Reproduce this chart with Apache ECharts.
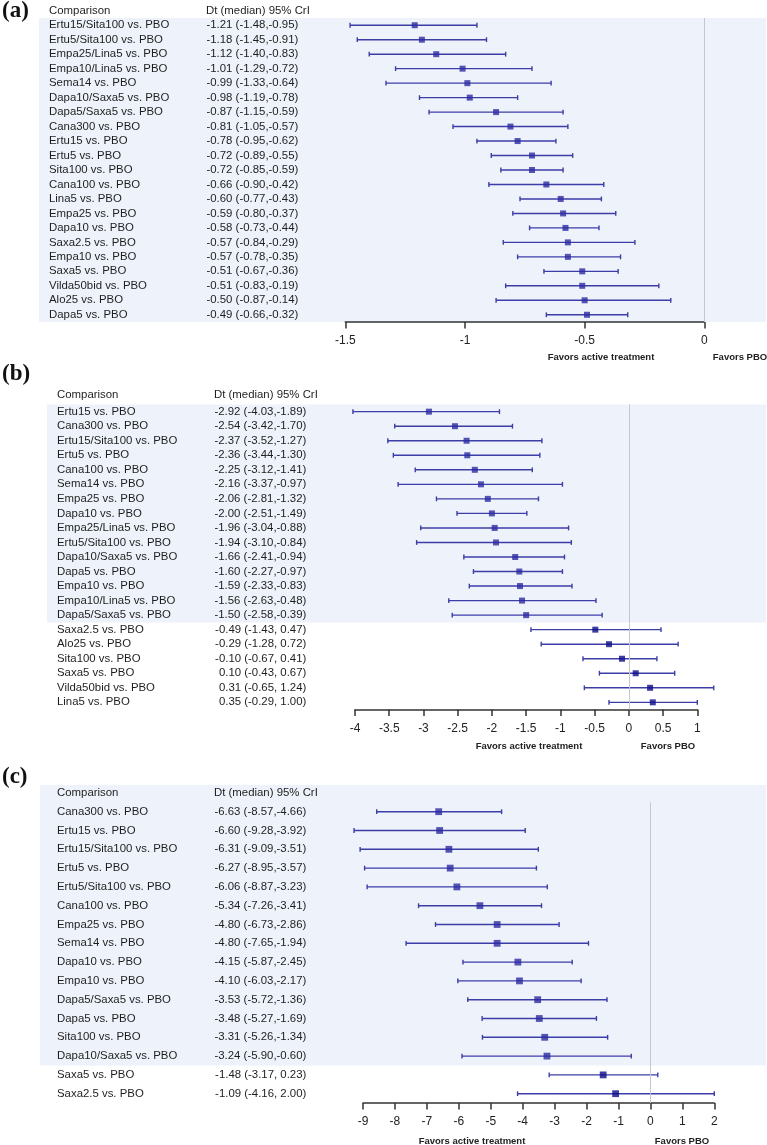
<!DOCTYPE html>
<html>
<head>
    <meta charset="utf-8">
    <title>Forest plots</title>
    <script src="https://cdn.jsdelivr.net/npm/echarts@6.0.0/dist/echarts.min.js"></script>
    <style>
        html, body { margin: 0; padding: 0; background: #fff; }
        #chart { width: 767px; height: 1145px; }
    </style>
</head>
<body>
    <div id="chart"></div>
    <script>
        // panel (a)
        const namesA = ['Ertu15/Sita100 vs. PBO', 'Ertu5/Sita100 vs. PBO', 'Empa25/Lina5 vs. PBO', 'Empa10/Lina5 vs. PBO',
            'Sema14 vs. PBO', 'Dapa10/Saxa5 vs. PBO', 'Dapa5/Saxa5 vs. PBO', 'Cana300 vs. PBO', 'Ertu15 vs. PBO',
            'Ertu5 vs. PBO', 'Sita100 vs. PBO', 'Cana100 vs. PBO', 'Lina5 vs. PBO', 'Empa25 vs. PBO', 'Dapa10 vs. PBO',
            'Saxa2.5 vs. PBO', 'Empa10 vs. PBO', 'Saxa5 vs. PBO', 'Vilda50bid vs. PBO', 'Alo25 vs. PBO', 'Dapa5 vs. PBO'];
        const medA = [-1.21, -1.18, -1.12, -1.01, -0.99, -0.98, -0.87, -0.81, -0.78, -0.72, -0.72, -0.66, -0.60, -0.59, -0.58, -0.57, -0.57, -0.51, -0.51, -0.50, -0.49];
        const loA = [-1.48, -1.45, -1.40, -1.29, -1.33, -1.19, -1.15, -1.05, -0.95, -0.89, -0.85, -0.90, -0.77, -0.80, -0.73, -0.84, -0.78, -0.67, -0.83, -0.87, -0.66];
        const hiA = [-0.95, -0.91, -0.83, -0.72, -0.64, -0.78, -0.59, -0.57, -0.62, -0.55, -0.59, -0.42, -0.43, -0.37, -0.44, -0.29, -0.35, -0.36, -0.19, -0.14, -0.32];

        // panel (b)
        const namesB = ['Ertu15 vs. PBO', 'Cana300 vs. PBO', 'Ertu15/Sita100 vs. PBO', 'Ertu5 vs. PBO', 'Cana100 vs. PBO',
            'Sema14 vs. PBO', 'Empa25 vs. PBO', 'Dapa10 vs. PBO', 'Empa25/Lina5 vs. PBO', 'Ertu5/Sita100 vs. PBO',
            'Dapa10/Saxa5 vs. PBO', 'Dapa5 vs. PBO', 'Empa10 vs. PBO', 'Empa10/Lina5 vs. PBO', 'Dapa5/Saxa5 vs. PBO',
            'Saxa2.5 vs. PBO', 'Alo25 vs. PBO', 'Sita100 vs. PBO', 'Saxa5 vs. PBO', 'Vilda50bid vs. PBO', 'Lina5 vs. PBO'];
        const medB = [-2.92, -2.54, -2.37, -2.36, -2.25, -2.16, -2.06, -2.00, -1.96, -1.94, -1.66, -1.60, -1.59, -1.56, -1.50, -0.49, -0.29, -0.10, 0.10, 0.31, 0.35];
        const loB = [-4.03, -3.42, -3.52, -3.44, -3.12, -3.37, -2.81, -2.51, -3.04, -3.10, -2.41, -2.27, -2.33, -2.63, -2.58, -1.43, -1.28, -0.67, -0.43, -0.65, -0.29];
        const hiB = [-1.89, -1.70, -1.27, -1.30, -1.41, -0.97, -1.32, -1.49, -0.88, -0.84, -0.94, -0.97, -0.83, -0.48, -0.39, 0.47, 0.72, 0.41, 0.67, 1.24, 1.00];

        // panel (c)
        const namesC = ['Cana300 vs. PBO', 'Ertu15 vs. PBO', 'Ertu15/Sita100 vs. PBO', 'Ertu5 vs. PBO', 'Ertu5/Sita100 vs. PBO',
            'Cana100 vs. PBO', 'Empa25 vs. PBO', 'Sema14 vs. PBO', 'Dapa10 vs. PBO', 'Empa10 vs. PBO', 'Dapa5/Saxa5 vs. PBO',
            'Dapa5 vs. PBO', 'Sita100 vs. PBO', 'Dapa10/Saxa5 vs. PBO', 'Saxa5 vs. PBO', 'Saxa2.5 vs. PBO'];
        const medC = [-6.63, -6.60, -6.31, -6.27, -6.06, -5.34, -4.80, -4.80, -4.15, -4.10, -3.53, -3.48, -3.31, -3.24, -1.48, -1.09];
        const loC = [-8.57, -9.28, -9.09, -8.95, -8.87, -7.26, -6.73, -7.65, -5.87, -6.03, -5.72, -5.27, -5.26, -5.90, -3.17, -4.16];
        const hiC = [-4.66, -3.92, -3.51, -3.57, -3.23, -3.41, -2.86, -1.94, -2.45, -2.17, -1.36, -1.69, -1.34, -0.60, 0.23, 2.00];

        const font = '"Liberation Sans", Arial, sans-serif';
        const textColor = '#1e1e1e';
        const bandColor = '#eef2fa';
        const rowFont = 11.4;

        // layout of each panel (pixels)
        const panels = [
            { tag: '(a)', names: namesA, med: medA, lo: loA, hi: hiA,
              grid: { left: 345.3, top: 18, width: 359, height: 304 },
              min: -1.5, max: 0, interval: 0.5,
              nameX: 49, valX: 206, valEnd: 298.3, headY: 11, tagY: 11, bandLeft: 39, bandTop: 18,
              favY: 357, favA: 601, favP: 740, symbol: 6 },
            { tag: '(b)', names: namesB, med: medB, lo: loB, hi: hiB,
              grid: { left: 355, top: 404.4, width: 342.3, height: 305.2 },
              min: -4, max: 1, interval: 0.5,
              nameX: 57, valX: 214, valEnd: 306.3, headY: 395, tagY: 374, bandLeft: 47, bandTop: 404.4,
              favY: 746, favA: 529, favP: 668, symbol: 6 },
            { tag: '(c)', names: namesC, med: medC, lo: loC, hi: hiC,
              grid: { left: 363, top: 802.3, width: 351.3, height: 300.8 },
              min: -9, max: 2, interval: 1,
              nameX: 57, valX: 214, valEnd: 306.3, headY: 792.7, tagY: 777, bandLeft: 40, bandTop: 785,
              favY: 1141, favA: 472, favP: 682, symbol: 6.8 }
        ];

        function fmt(v) { return v.toFixed(2); }
        function valueText(m, lo, hi) {
            return fmt(m) + ' (' + fmt(lo) + ',' + (hi >= 0 ? ' ' : '') + fmt(hi) + ')';
        }

        const grids = [], xAxes = [], yAxes = [], series = [], graphics = [];

        panels.forEach((p, i) => {
            const n = p.names.length;
            const rowH = p.grid.height / n;
            const nSig = p.hi.filter(v => v < 0).length;
            const g = p.grid;

            grids.push(Object.assign({ containLabel: false, outerBoundsMode: 'none' }, g));

            xAxes.push({
                type: 'value', gridIndex: i, min: p.min, max: p.max, interval: p.interval,
                splitLine: { show: false },
                axisLine: { show: true, onZero: false, lineStyle: { color: '#333', width: 1.5 } },
                axisTick: { show: true, length: 6.5, lineStyle: { color: '#333', width: 1.5 } },
                axisLabel: { color: '#222', fontSize: 12, fontFamily: font, margin: 13 }
            });

            // comparison names
            yAxes.push({
                type: 'category', gridIndex: i, inverse: true, data: p.names,
                axisLine: { show: false }, axisTick: { show: false }, splitLine: { show: false },
                axisLabel: { interval: 0, align: 'left', margin: g.left - p.nameX,
                    color: textColor, fontSize: rowFont, fontFamily: font }
            });
            // estimate text
            yAxes.push({
                type: 'category', gridIndex: i, inverse: true, position: 'left',
                data: p.med.map((m, k) => valueText(m, p.lo[k], p.hi[k])),
                axisLine: { show: false }, axisTick: { show: false }, splitLine: { show: false },
                axisLabel: { interval: 0, align: 'right', margin: g.left - p.valEnd,
                    color: textColor, fontSize: rowFont, fontFamily: font }
            });

            series.push({
                type: 'custom', xAxisIndex: i, yAxisIndex: i * 2, z: 2, silent: true,
                encode: { x: [0, 1], y: 2 },
                data: p.lo.map((lo, k) => [lo, p.hi[k], k]),
                renderItem: (params, api) => {
                    const a = api.coord([api.value(0), api.value(2)]);
                    const b = api.coord([api.value(1), api.value(2)]);
                    const h = 2.4;
                    const st = { stroke: '#3d3da8', lineWidth: 1.4 };
                    return {
                        type: 'group', children: [
                            { type: 'line', shape: { x1: a[0], y1: a[1], x2: b[0], y2: b[1] }, style: st },
                            { type: 'line', shape: { x1: a[0], y1: a[1] - h, x2: a[0], y2: a[1] + h }, style: st },
                            { type: 'line', shape: { x1: b[0], y1: b[1] - h, x2: b[0], y2: b[1] + h }, style: st }
                        ]
                    };
                }
            });

            series.push({
                type: 'scatter', xAxisIndex: i, yAxisIndex: i * 2, z: 3, silent: true,
                symbol: 'rect', symbolSize: p.symbol,
                data: p.med.map((m, k) => [m, k]),
                itemStyle: { color: params => params.dataIndex < nSig ? '#2a2aa0' : '#0c0c88' },
                markLine: {
                    silent: true, symbol: 'none', label: { show: false },
                    lineStyle: { color: '#c4c8d4', width: 1, type: 'solid' },
                    data: [{ xAxis: 0 }]
                }
            });

            // shaded band behind significant rows
            const bandBottom = g.top + nSig * rowH;
            graphics.push({
                type: 'rect', z: -10, silent: true,
                shape: { x: p.bandLeft, y: p.bandTop, width: 766 - p.bandLeft, height: bandBottom - p.bandTop },
                style: { fill: bandColor }
            });

            graphics.push({
                type: 'text', silent: true,
                style: { text: p.tag, x: 2, y: p.tagY, verticalAlign: 'middle',
                    font: 'bold 23px "Liberation Serif", "Times New Roman", serif', fill: '#111' }
            });
            graphics.push({
                type: 'text', silent: true,
                style: { text: 'Comparison', x: p.nameX, y: p.headY, verticalAlign: 'middle',
                    font: rowFont + 'px ' + font, fill: textColor }
            });
            graphics.push({
                type: 'text', silent: true,
                style: { text: 'Dt (median) 95% CrI', x: p.valX, y: p.headY, verticalAlign: 'middle',
                    font: rowFont + 'px ' + font, fill: textColor }
            });
            graphics.push({
                type: 'text', silent: true,
                style: { text: 'Favors active treatment', x: p.favA, y: p.favY, align: 'center', verticalAlign: 'middle',
                    font: 'bold 9.5px ' + font, fill: '#222' }
            });
            graphics.push({
                type: 'text', silent: true,
                style: { text: 'Favors PBO', x: p.favP, y: p.favY, align: 'center', verticalAlign: 'middle',
                    font: 'bold 9.5px ' + font, fill: '#222' }
            });
        });

        const chart = echarts.init(document.getElementById('chart'), null, { renderer: 'canvas' });
        chart.setOption({
            animation: false,
            backgroundColor: '#fff',
            grid: grids,
            xAxis: xAxes,
            yAxis: yAxes,
            series: series,
            graphic: graphics
        });
    </script>
</body>
</html>
